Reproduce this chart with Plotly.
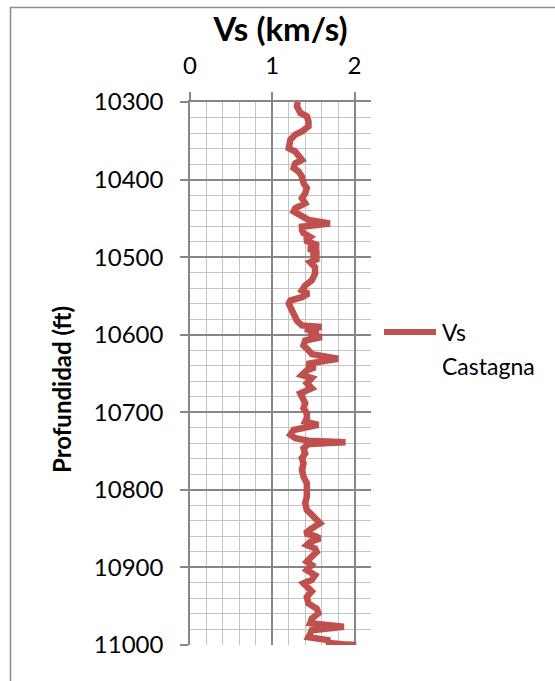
import plotly.graph_objects as go

# Shear-wave velocity log (Castagna relation) versus depth
depth_ft = [
    10300, 10305.6, 10314, 10318.5, 10325, 10331.5, 10338, 10342, 10348.7, 10359.5,
    10363.8, 10370, 10374.6, 10379, 10385, 10389.6, 10396, 10404.7, 10411, 10417.7,
    10424, 10430.6, 10437, 10441, 10447, 10452, 10456.5, 10458.6, 10460.8, 10465,
    10469, 10474, 10478.5, 10485, 10489, 10493.5, 10498, 10502, 10506.5, 10513,
    10521.5, 10530, 10536.5, 10543, 10547, 10551.6, 10556, 10560, 10569, 10577,
    10582, 10588, 10590, 10592.5, 10597, 10599, 10603, 10607.5, 10614, 10620,
    10625, 10631, 10634, 10637.6, 10642, 10646, 10652, 10656, 10662.6, 10669,
    10675.5, 10682, 10688.4, 10694.8, 10701.3, 10707.7, 10712, 10716.3, 10719.4, 10722.8,
    10729, 10733.5, 10736.6, 10738.7, 10740.9, 10746.4, 10753, 10759, 10766, 10774,
    10783, 10791.6, 10800, 10809, 10817, 10826, 10830, 10836.8, 10843, 10849.7,
    10856, 10859.6, 10862.6, 10867, 10871, 10875.5, 10880, 10886, 10892.7, 10897,
    10903.4, 10910, 10916, 10920.6, 10927, 10931, 10938, 10946.4, 10953, 10959,
    10966, 10972, 10976.5, 10981, 10986, 10990, 10994, 10997, 10999, 11000,
]
vs_kms = [
    1.31, 1.30, 1.34, 1.42, 1.44, 1.44, 1.36, 1.28, 1.22, 1.20,
    1.28, 1.34, 1.36, 1.28, 1.26, 1.32, 1.36, 1.38, 1.42, 1.40,
    1.36, 1.40, 1.28, 1.26, 1.34, 1.44, 1.70, 1.56, 1.36, 1.36,
    1.38, 1.46, 1.40, 1.56, 1.44, 1.56, 1.48, 1.56, 1.46, 1.52,
    1.52, 1.48, 1.40, 1.36, 1.44, 1.36, 1.22, 1.20, 1.24, 1.26,
    1.30, 1.36, 1.60, 1.40, 1.56, 1.44, 1.60, 1.40, 1.38, 1.44,
    1.48, 1.80, 1.56, 1.42, 1.52, 1.42, 1.36, 1.48, 1.42, 1.48,
    1.34, 1.38, 1.40, 1.38, 1.42, 1.42, 1.40, 1.56, 1.44, 1.26,
    1.22, 1.28, 1.44, 1.89, 1.44, 1.38, 1.40, 1.36, 1.38, 1.36,
    1.38, 1.42, 1.42, 1.42, 1.40, 1.42, 1.46, 1.52, 1.58, 1.48,
    1.40, 1.52, 1.58, 1.46, 1.42, 1.52, 1.54, 1.48, 1.42, 1.48,
    1.42, 1.52, 1.48, 1.38, 1.46, 1.48, 1.42, 1.44, 1.54, 1.56,
    1.48, 1.46, 1.87, 1.48, 1.46, 1.44, 1.70, 1.66, 1.85, 2.02,
]

series_name = "Vs"
series_name_2 = "Castagna"
x_tick_values = [0, 1, 2]
x_range = [0, 2.2]
y_range = [11000, 10300]

FONT = "Lato, 'Liberation Sans', Arial, sans-serif"
RED = "#C0504D"
MAJOR = "#878787"
MINOR = "#C3C3C3"

W, H = 555, 681
L, R, T, B = 190, 184, 102, 36
PW, PH = W - L - R, H - T - B


def px_x(px):
    return (px - L) / PW


def px_y(py):
    return (H - B - py) / PH


fig = go.Figure()
fig.add_trace(go.Scatter(
    x=vs_kms, y=depth_ft, mode="lines", name=series_name,
    line=dict(color=RED, width=6.5),
    showlegend=False,
))

fig.update_layout(
    width=W, height=H,
    margin=dict(l=L, r=R, t=T, b=B, pad=0),
    paper_bgcolor="white", plot_bgcolor="white",
    font=dict(family=FONT, color="black"),
    title=dict(
        text="<b>Vs (km/s)</b>", font=dict(size=33, family=FONT, color="black"),
        x=0.5, xref="paper", xanchor="center",
        y=1 - 29 / H, yref="container", yanchor="middle",
    ),
)

fig.update_xaxes(
    side="top", range=x_range, tickvals=x_tick_values,
    showgrid=True, gridcolor=MAJOR, gridwidth=1.5,
    minor=dict(dtick=0.2, tick0=0, showgrid=True, gridcolor=MINOR, gridwidth=1.3, ticks=""),
    ticks="outside", ticklen=8, tickwidth=1.5, tickcolor=MAJOR,
    showline=True, linecolor=MAJOR, linewidth=1.5, zeroline=False,
    tickfont=dict(size=24, family=FONT, color="black"), ticklabelstandoff=9,
)
fig.update_yaxes(
    range=y_range, dtick=100, tick0=0, tickformat="d",
    showgrid=True, gridcolor=MAJOR, gridwidth=1.5,
    minor=dict(dtick=20, tick0=0, showgrid=True, gridcolor=MINOR, gridwidth=1.3, ticks=""),
    ticks="outside", ticklen=8, tickwidth=1.5, tickcolor=MAJOR,
    showline=True, linecolor=MAJOR, linewidth=1.5, zeroline=False,
    tickfont=dict(size=24, family=FONT, color="black"), ticklabelstandoff=12,
)

# Depth axis title
fig.add_annotation(
    text="<b>Profundidad (ft)</b>", textangle=-90, showarrow=False,
    xref="paper", yref="paper", x=px_x(61), y=px_y(390),
    xanchor="center", yanchor="middle", font=dict(size=24, family=FONT),
)

# Legend: line sample and two-line label
fig.add_shape(type="line", xref="paper", yref="paper",
              x0=px_x(384), x1=px_x(436), y0=px_y(332), y1=px_y(332),
              line=dict(color=RED, width=6))
fig.add_annotation(text=series_name, showarrow=False, xref="paper", yref="paper",
                   x=px_x(440), y=px_y(332), xanchor="left", yanchor="middle",
                   font=dict(size=23, family=FONT))
fig.add_annotation(text=series_name_2, showarrow=False, xref="paper", yref="paper",
                   x=px_x(440), y=px_y(366), xanchor="left", yanchor="middle",
                   font=dict(size=23, family=FONT))

# Chart frame
fig.add_shape(type="rect", xref="paper", yref="paper", layer="below",
              x0=px_x(10.5), x1=px_x(600), y0=px_y(730), y1=px_y(7.5),
              line=dict(color="#8C8C8C", width=1.5))

fig.write_html("out.html")
